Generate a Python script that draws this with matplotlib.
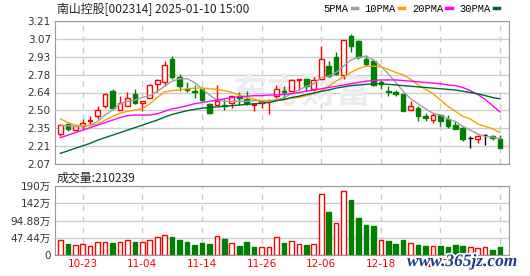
import numpy as np
import pandas as pd
import matplotlib
matplotlib.use('Agg')
import matplotlib.pyplot as plt
from matplotlib.lines import Line2D
import matplotlib.patheffects as pe

plt.rcParams['font.family'] = ['DejaVu Sans', 'Noto Sans CJK SC']

# trading days 2024-10-18 .. 2025-01-10 (new year's day closed)
days = pd.bdate_range('2024-10-18', '2025-01-10')
days = days[days != pd.Timestamp('2025-01-01')]
dates = days.strftime('%m-%d').tolist()

open_ = [2.31, 2.39, 2.34, 2.37, 2.41, 2.45, 2.53, 2.65, 2.50, 2.53,
         2.63, 2.56, 2.60, 2.71, 2.72, 2.91, 2.76, 2.67, 2.65, 2.67,
         2.55, 2.54, 2.54, 2.56, 2.61, 2.59, 2.54, 2.56, 2.57, 2.61,
         2.65, 2.65, 2.74, 2.75, 2.67, 2.75, 2.85, 2.92, 2.78, 3.09,
         3.05, 2.91, 2.89, 2.72, 2.65, 2.64, 2.63, 2.50, 2.52, 2.45,
         2.42, 2.46, 2.43, 2.38, 2.36, 2.28, 2.27, 2.30, 2.29, 2.27]
high = [2.39, 2.40, 2.37, 2.43, 2.45, 2.53, 2.63, 2.67, 2.61, 2.64,
        2.67, 2.57, 2.71, 2.75, 2.89, 2.93, 2.79, 2.72, 2.70, 2.68,
        2.56, 2.70, 2.59, 2.61, 2.64, 2.65, 2.55, 2.57, 2.58, 2.70,
        2.69, 2.75, 2.75, 2.75, 2.76, 3.01, 2.89, 2.96, 3.06, 3.11,
        3.06, 2.94, 2.91, 2.74, 2.69, 2.66, 2.63, 2.57, 2.53, 2.48,
        2.48, 2.46, 2.46, 2.41, 2.37, 2.29, 2.30, 2.31, 2.30, 2.30]
low = [2.29, 2.33, 2.34, 2.35, 2.39, 2.43, 2.52, 2.51, 2.50, 2.53,
       2.55, 2.49, 2.60, 2.64, 2.69, 2.75, 2.65, 2.64, 2.60, 2.57,
       2.47, 2.53, 2.50, 2.52, 2.54, 2.54, 2.49, 2.52, 2.47, 2.60,
       2.59, 2.65, 2.66, 2.65, 2.65, 2.75, 2.76, 2.78, 2.75, 2.96,
       2.91, 2.85, 2.69, 2.67, 2.61, 2.61, 2.49, 2.50, 2.41, 2.41,
       2.40, 2.37, 2.36, 2.35, 2.25, 2.20, 2.24, 2.22, 2.26, 2.20]
close = [2.38, 2.35, 2.37, 2.40, 2.42, 2.50, 2.63, 2.52, 2.56, 2.60,
         2.56, 2.57, 2.70, 2.74, 2.86, 2.76, 2.69, 2.66, 2.64, 2.58,
         2.48, 2.57, 2.53, 2.61, 2.60, 2.56, 2.55, 2.57, 2.58, 2.67,
         2.64, 2.74, 2.75, 2.69, 2.74, 2.91, 2.77, 2.79, 3.06, 3.01,
         2.92, 2.87, 2.70, 2.71, 2.64, 2.63, 2.49, 2.53, 2.45, 2.44,
         2.46, 2.41, 2.37, 2.35, 2.27, 2.28, 2.29, 2.30, 2.28, 2.20]
# volume, unit: 万手
volume = [42, 30, 27, 29, 25, 36, 36, 33, 36, 41,
          36, 36, 41, 49, 54, 50, 42, 36, 28, 33,
          30, 52, 44, 32, 25, 36, 22, 22, 21, 49,
          33, 39, 30, 28, 30, 167, 118, 87, 175, 151,
          102, 83, 80, 41, 39, 30, 41, 32, 28, 25,
          25, 25, 22, 28, 25, 21, 19, 22, 14, 21.0239]

ma5 = [2.38, 2.375, 2.37, 2.37, 2.38, 2.41, 2.46, 2.50, 2.55, 2.57,
       2.58, 2.60, 2.615, 2.65, 2.69, 2.73, 2.75, 2.75, 2.72, 2.67,
       2.62, 2.58, 2.57, 2.57, 2.57, 2.57, 2.575, 2.575, 2.575, 2.58,
       2.60, 2.63, 2.66, 2.69, 2.71, 2.76, 2.77, 2.80, 2.85, 2.90,
       2.92, 2.93, 2.90, 2.85, 2.79, 2.72, 2.65, 2.59, 2.55, 2.51,
       2.475, 2.46, 2.43, 2.41, 2.37, 2.34, 2.31, 2.29, 2.285, 2.27]
ma10 = [2.43, 2.40, 2.38, 2.375, 2.375, 2.39, 2.42, 2.45, 2.475, 2.49,
        2.50, 2.51, 2.55, 2.60, 2.645, 2.655, 2.66, 2.67, 2.675, 2.675,
        2.67, 2.665, 2.655, 2.64, 2.62, 2.60, 2.585, 2.575, 2.57, 2.575,
        2.58, 2.595, 2.60, 2.615, 2.63, 2.655, 2.69, 2.73, 2.765, 2.80,
        2.83, 2.85, 2.85, 2.845, 2.825, 2.80, 2.78, 2.745, 2.70, 2.665,
        2.63, 2.58, 2.53, 2.49, 2.45, 2.43, 2.39, 2.37, 2.35, 2.32]
ma20 = [2.28, 2.30, 2.32, 2.34, 2.36, 2.38, 2.40, 2.42, 2.44, 2.455,
        2.46, 2.46, 2.46, 2.47, 2.49, 2.51, 2.52, 2.535, 2.55, 2.56,
        2.57, 2.58, 2.59, 2.60, 2.605, 2.61, 2.615, 2.615, 2.62, 2.62,
        2.625, 2.63, 2.64, 2.65, 2.66, 2.67, 2.68, 2.69, 2.70, 2.71,
        2.72, 2.73, 2.735, 2.74, 2.74, 2.74, 2.735, 2.73, 2.725, 2.72,
        2.715, 2.71, 2.70, 2.695, 2.68, 2.655, 2.625, 2.585, 2.535, 2.485]
ma30 = [2.155, 2.175, 2.195, 2.215, 2.235, 2.26, 2.28, 2.30, 2.32, 2.34,
        2.36, 2.38, 2.40, 2.42, 2.445, 2.465, 2.48, 2.495, 2.505, 2.515,
        2.52, 2.525, 2.53, 2.535, 2.54, 2.545, 2.55, 2.555, 2.56, 2.575,
        2.585, 2.60, 2.61, 2.625, 2.635, 2.65, 2.66, 2.675, 2.685, 2.695,
        2.70, 2.705, 2.71, 2.71, 2.705, 2.70, 2.695, 2.69, 2.685, 2.68,
        2.675, 2.67, 2.665, 2.66, 2.65, 2.64, 2.63, 2.615, 2.60, 2.59]

price_ticks = np.linspace(2.07, 3.21, 9)
price_labels = ['2.07', '2.21', '2.35', '2.50', '2.64', '2.78', '2.93', '3.07', '3.21']
vol_ticks = [0, 47.44, 94.88, 142.32, 189.76]
vol_labels = ['0', '47.44万', '94.88万', '142万', '190万']

RED = '#ff0000'
GREEN = '#008000'
GRID = '#cccccc'
EDGE = '#999999'

x = np.arange(len(close))
o, h, l, c = (np.array(v) for v in (open_, high, low, close))
up = c > o
down = c < o
flat = c == o
cols = np.where(up, RED, np.where(down, GREEN, 'black'))
w = 0.62

fig = plt.figure(figsize=(5.3, 2.76), dpi=100)
ax = fig.add_axes([55/530, 1-164/276, 454/530, 143/276])
axv = fig.add_axes([55/530, 1-255/276, 454/530, 69/276])

tick_idx = x[3::8]
for a in (ax, axv):
    a.set_xlim(-0.72, 60.2)
    for s in a.spines.values():
        s.set_color(EDGE)
    a.set_xticks(tick_idx)
    a.tick_params(length=0, labelsize=7.5, colors='#333333', pad=3)
    a.grid(axis='y', color=GRID, lw=1, zorder=0)
    a.set_axisbelow(True)
    for t in tick_idx:
        a.axvline(t, color=GRID, lw=1, ls=(0, (4, 4)), zorder=0)

# price panel
ax.set_ylim(2.07, 3.21)
ax.set_yticks(price_ticks)
ax.set_yticklabels(price_labels)
ax.set_xticklabels([])
ax.text(0.545, 0.5, '东方财富', transform=ax.transAxes, ha='center', va='center',
        fontsize=25, color='#ececf0', fontweight='bold', family='Noto Sans CJK SC', zorder=1)

ax.vlines(x, l, h, colors=cols, lw=1, zorder=3)
ax.bar(x[up], (c - o)[up], bottom=o[up], width=w, facecolor='white', edgecolor=RED, lw=1, zorder=4)
ax.bar(x[down], (o - c)[down], bottom=c[down], width=w, facecolor=GREEN, edgecolor=GREEN, lw=1, zorder=4)
ax.hlines(c[flat], x[flat] - w/2, x[flat] + w/2, colors='black', lw=1, zorder=4)

ma_colors = ['#a0a0a0', '#f5a300', '#ff00ff', '#006633']
for ma, col in zip([ma5, ma10, ma20, ma30], ma_colors):
    ax.plot(x, ma, color=col, lw=1, zorder=5)

# volume panel: colour by close vs previous close
pc = np.r_[c[0] > o[0], c[1:] > c[:-1]]
vol = np.array(volume)
axv.set_ylim(0, 189.76)
axv.set_yticks(vol_ticks)
axv.set_yticklabels(vol_labels)
axv.bar(x[pc], vol[pc], width=w, facecolor='white', edgecolor=RED, lw=1, zorder=3)
axv.bar(x[~pc], vol[~pc], width=w, facecolor=GREEN, edgecolor=GREEN, lw=1, zorder=3)
axv.set_xticklabels([dates[i] for i in tick_idx], color=RED)

# texts
fig.text(57/530, 1-9/276, '南山控股[002314] 2025-01-10 15:00', fontsize=8.6,
         family='Noto Sans CJK SC', va='center', color='#222222')
fig.text(57/530, 1-178/276, '成交量:210239', fontsize=8.6,
         family='Noto Sans CJK SC', va='center', color='#222222')

handles = [Line2D([], [], color=col, lw=2.5) for col in ma_colors]
fig.legend(handles, ['5PMA', '10PMA', '20PMA', '30PMA'], loc='center right',
           bbox_to_anchor=(499/530, 1-9/276), ncol=4, frameon=False, markerfirst=False,
           handlelength=0.5, handletextpad=0.3, columnspacing=0.75, borderpad=0,
           borderaxespad=0, prop={'family': 'Liberation Mono', 'size': 7.5})

fig.text(407/530, 1-262/276, 'www.365jz.com', fontsize=12.5, family='Liberation Serif',
         fontweight='bold', style='italic', color='#1f3c88', va='center',
         path_effects=[pe.withStroke(linewidth=2.5, foreground='white')])

fig.savefig('out.png', dpi=100)
